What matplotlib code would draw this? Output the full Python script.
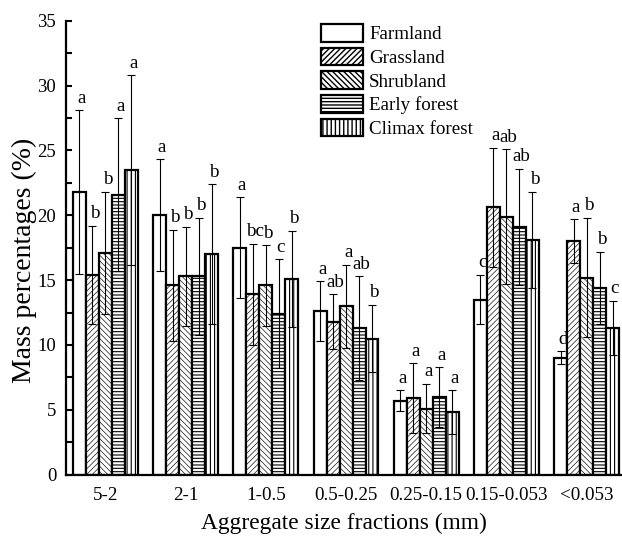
import numpy as np
import matplotlib
matplotlib.use('Agg')
import matplotlib.pyplot as plt

plt.rcParams['font.family'] = ['Liberation Serif', 'DejaVu Serif']

fractions = ['5-2', '2-1', '1-0.5', '0.5-0.25', '0.25-0.15', '0.15-0.053', '<0.053']
land_uses = ['Farmland', 'Grassland', 'Shrubland', 'Early forest', 'Climax forest']

farmland = [21.8, 20.0, 17.5, 12.6, 5.7, 13.5, 9.0]
grassland = [15.4, 14.6, 13.9, 11.8, 5.9, 20.6, 18.0]
shrubland = [17.1, 15.3, 14.6, 13.0, 5.1, 19.9, 15.2]
early_forest = [21.6, 15.3, 12.4, 11.3, 6.0, 19.1, 14.4]
climax_forest = [23.5, 17.0, 15.1, 10.5, 4.8, 18.1, 11.3]

farmland_sd = [6.3, 4.3, 3.9, 2.3, 0.8, 1.9, 0.5]
grassland_sd = [3.8, 4.3, 3.9, 2.1, 2.7, 4.6, 1.7]
shrubland_sd = [4.7, 3.8, 3.1, 3.2, 1.9, 5.2, 4.6]
early_forest_sd = [5.9, 4.5, 4.2, 4.0, 2.3, 4.5, 2.8]
climax_forest_sd = [7.3, 5.4, 3.7, 2.6, 1.7, 3.7, 2.1]

farmland_sig = ['a', 'a', 'a', 'a', 'a', 'c', 'd']
grassland_sig = ['b', 'b', 'bc', 'ab', 'a', 'a', 'a']
shrubland_sig = ['b', 'b', 'b', 'a', 'a', 'ab', 'b']
early_forest_sig = ['a', 'b', 'c', 'ab', 'a', 'ab', 'b']
climax_forest_sig = ['a', 'b', 'b', 'b', 'a', 'b', 'c']

means = [farmland, grassland, shrubland, early_forest, climax_forest]
sds = [farmland_sd, grassland_sd, shrubland_sd, early_forest_sd, climax_forest_sd]
sigs = [farmland_sig, grassland_sig, shrubland_sig, early_forest_sig, climax_forest_sig]
hatches = ['', '//////', '\\\\\\\\\\\\', '-----', '||||']
hatch_lw = [0.45, 0.45, 0.45, 0.8, 0.8]

fig = plt.figure(figsize=(6.22, 5.41), dpi=100)
ax = fig.add_axes([66 / 622, 66.3 / 541, 556 / 622, 454 / 541])

x = np.arange(len(fractions))
w = 0.162
for i in range(5):
    pos = x + (i - 2) * w
    with plt.rc_context({'hatch.linewidth': hatch_lw[i]}):
        bars = ax.bar(pos, means[i], w, color='white', edgecolor='black',
                      linewidth=1.6, hatch=hatches[i], label=land_uses[i], zorder=2)
    for b in bars:
        if hasattr(b, 'set_hatch_linewidth'):
            b.set_hatch_linewidth(hatch_lw[i])
    ax.errorbar(pos, means[i], yerr=sds[i], fmt='none', ecolor='black',
                elinewidth=0.8, capsize=3, capthick=0.8, zorder=3)
    for p, m, s, t in zip(pos, means[i], sds[i], sigs[i]):
        ax.annotate(t, (p, m + s), xytext=(1.5, 2.5), textcoords='offset points',
                    ha='center', va='bottom', fontsize=13.7)

ax.set_xlim(-0.49, 6.44)
ax.set_ylim(0, 35)
ax.set_xticks(x)
ax.set_xticklabels(fractions)
ax.set_yticks(np.arange(0, 36, 5))
ax.set_yticks(np.arange(2.5, 35, 5), minor=True)
ax.tick_params(axis='x', length=0, pad=8.5, labelsize=13.7)
ax.tick_params(axis='y', which='major', direction='in', length=4.5, width=1.5,
               pad=7, labelsize=13.5)
ax.tick_params(axis='y', which='minor', direction='in', length=4, width=1.5)
for sp in ['top', 'right']:
    ax.spines[sp].set_visible(False)
for sp in ['left', 'bottom']:
    ax.spines[sp].set_linewidth(1.6)

ax.set_xlabel('Aggregate size fractions (mm)', fontsize=16.8, labelpad=7)
ax.set_ylabel('Mass percentages (%)', fontsize=20)
ax.yaxis.set_label_coords(-0.052, 0.473)

ax.legend(loc='upper left', bbox_to_anchor=(0.458, 0.993), frameon=False,
          fontsize=13.7, handlelength=2.25, handleheight=1.05, labelspacing=0.23,
          handletextpad=0.3, borderpad=0, borderaxespad=0)

fig.savefig('out.png', dpi=100)
plt.close()
